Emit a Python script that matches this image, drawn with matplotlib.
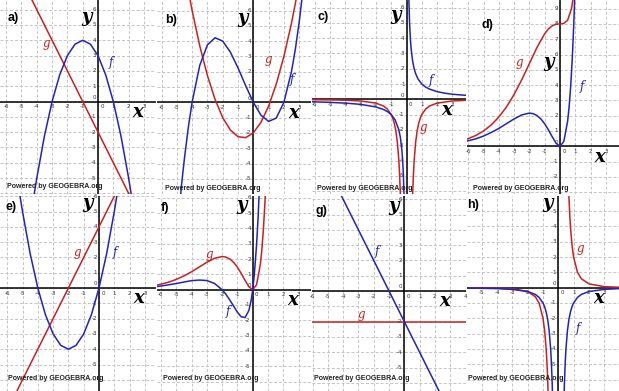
import math
import matplotlib.pyplot as plt

W, H = 619, 391
BLUE = '#2323b8'
RED = '#c82020'

# a)
a_f_x = [-4.2, -4, -3.5, -3, -2.5, -2, -1.5, -1, -0.5, 0, 0.5, 1, 1.5, 2, 2.2]
a_f_y = [-6.24, -5, -2.25, 0, 1.75, 3, 3.75, 4, 3.75, 3, 1.75, 0, -2.25, -5, -6.24]
a_g_x = [-4.5, 2.5]
a_g_y = [7, -7]

# b)
b_f_x = [-4.8, -4.65, -4.5, -4.25, -4, -3.5, -3, -2.5, -2, -1.5, -1, -0.5, 0, 0.5, 1, 1.5, 2, 2.5, 2.75, 3, 3.25]
b_f_y = [-6.53, -5.02, -3.66, -1.66, 0, 2.41, 3.75, 4.22, 4, 3.28, 2.25, 1.09, 0, -0.84, -1.25, -1.03, 0, 2.03, 3.48, 5.25, 7.36]
b_g_x = [-4.5, -4, -3.5, -3, -2.5, -2, -1.5, -1, -0.5, 0, 0.5, 1, 1.5, 2, 2.5, 3]
b_g_y = [8.69, 6, 3.69, 1.75, 0.19, -1, -1.81, -2.25, -2.31, -2, -1.31, -0.25, 1.19, 3, 5.19, 7.75]

# c)
c_f1_x = [-6.5, -5, -4, -3, -2, -1.5, -1.25, -1, -0.75, -0.5, -0.4, -0.3, -0.25, -0.2, -0.15]
c_f1_y = [-0.15, -0.2, -0.25, -0.33, -0.5, -0.67, -0.8, -1, -1.33, -2, -2.5, -3.33, -4, -5, -6.67]
c_f2_x = [0.15, 0.2, 0.25, 0.3, 0.4, 0.5, 0.6, 0.75, 1, 1.25, 1.5, 2, 2.5, 3, 4]
c_f2_y = [6.67, 5, 4, 3.33, 2.5, 2, 1.67, 1.33, 1, 0.8, 0.67, 0.5, 0.4, 0.33, 0.25]
c_g1_x = [-6.5, -5, -4, -3, -2, -1.5, -1.25, -1, -0.9, -0.8, -0.7, -0.6, -0.5, -0.45, -0.4, -0.38]
c_g1_y = [-0.02, -0.04, -0.06, -0.11, -0.25, -0.44, -0.64, -1, -1.23, -1.56, -2.04, -2.78, -4, -4.94, -6.25, -6.93]
c_g2_x = [0.38, 0.4, 0.45, 0.5, 0.6, 0.7, 0.8, 0.9, 1, 1.25, 1.5, 2, 3, 4]
c_g2_y = [-6.93, -6.25, -4.94, -4, -2.78, -2.04, -1.56, -1.23, -1, -0.64, -0.44, -0.25, -0.11, -0.06]

# d)
d_f_x = [-6.3, -6, -5.5, -5, -4.5, -4, -3.5, -3, -2.5, -2, -1.75, -1.5, -1.25, -1, -0.75, -0.5, -0.25, 0, 0.25, 0.5, 0.6, 0.7, 0.8, 0.9, 1]
d_f_y = [0.29, 0.36, 0.49, 0.67, 0.9, 1.17, 1.48, 1.79, 2.05, 2.17, 2.13, 2.01, 1.79, 1.47, 1.06, 0.61, 0.19, 0, 0.32, 1.65, 2.62, 3.95, 5.7, 7.97, 10.87]
d_g_x = [-6.3, -6, -5.5, -5, -4.5, -4, -3.5, -3, -2.5, -2, -1.5, -1, -0.75, -0.5, -0.25, 0, 0.25, 0.5, 0.75, 0.9, 1]
d_g_y = [0.4, 0.5, 0.71, 1.0, 1.39, 1.91, 2.57, 3.39, 4.35, 5.41, 6.47, 7.36, 7.68, 7.88, 7.98, 8, 8.03, 8.24, 9.0, 9.94, 10.87]

# e)
e_f_x = [-5.2, -5, -4.5, -4, -3.5, -3, -2.5, -2, -1.5, -1, -0.5, 0, 0.5, 1, 1.2]
e_f_y = [6.24, 5, 2.25, 0, -1.75, -3, -3.75, -4, -3.75, -3, -1.75, 0, 2.25, 5, 6.24]
e_g_x = [-5.5, 1.5]
e_g_y = [-7, 7]

# f)
f_f_x = [-6.3, -6, -5.5, -5, -4.5, -4, -3.5, -3, -2.5, -2, -1.75, -1.5, -1.25, -1, -0.75, -0.5, -0.25, -0.1, 0, 0.1, 0.25, 0.35, 0.45, 0.5]
f_f_y = [0.2, 0.24, 0.32, 0.4, 0.5, 0.59, 0.63, 0.6, 0.41, 0, -0.3, -0.67, -1.07, -1.47, -1.77, -1.82, -1.36, -0.69, 0, 0.93, 2.89, 4.67, 6.92, 8.24]
f_g_x = [-6.3, -6, -5.5, -5, -4.5, -4, -3.5, -3, -2.5, -2, -1.75, -1.5, -1.25, -1, -0.75, -0.5, -0.25, 0, 0.25, 0.5, 0.6, 0.7, 0.8, 0.9]
f_g_y = [0.29, 0.36, 0.49, 0.67, 0.9, 1.17, 1.48, 1.79, 2.05, 2.17, 2.13, 2.01, 1.79, 1.47, 1.06, 0.61, 0.19, 0, 0.32, 1.65, 2.62, 3.95, 5.7, 7.97]

# g)
g_f_x = [-4.5, 2.5]
g_f_y = [7, -7]
g_g_x = [-7, 5]
g_g_y = [-2, -2]

# h)
h_f1_x = [-6.5, -5, -4, -3, -2, -1.5, -1.25, -1, -0.9, -0.8, -0.7, -0.6, -0.5, -0.45, -0.4, -0.38]
h_f1_y = [-0.02, -0.04, -0.06, -0.11, -0.25, -0.44, -0.64, -1, -1.23, -1.56, -2.04, -2.78, -4, -4.94, -6.25, -6.93]
h_f2_x = [0.38, 0.4, 0.45, 0.5, 0.6, 0.7, 0.8, 0.9, 1, 1.25, 1.5, 2, 3, 4, 5]
h_f2_y = [-6.93, -6.25, -4.94, -4, -2.78, -2.04, -1.56, -1.23, -1, -0.64, -0.44, -0.25, -0.11, -0.06, -0.04]
h_g1_x = [-6.5, -5, -4, -3, -2, -1.5, -1.25, -1, -0.9, -0.8, -0.75, -0.7, -0.66]
h_g1_y = [-0.01, -0.02, -0.03, -0.07, -0.25, -0.59, -1.02, -2, -2.74, -3.91, -4.74, -5.83, -6.96]
h_g2_x = [0.66, 0.7, 0.75, 0.8, 0.9, 1, 1.25, 1.5, 2, 3, 4, 5]
h_g2_y = [6.96, 5.83, 4.74, 3.91, 2.74, 2, 1.02, 0.59, 0.25, 0.07, 0.03, 0.02]

# label positions (data coords) for f and g
lab_f = {'a': (0.85, 2.54), 'b': (2.5, 1.46), 'c': (1.58, 1.26), 'd': (1.43, 3.88),
         'e': (1.04, 2.32), 'f': (-1.63, -1.44), 'g': (-1.8, 2.57), 'h': (1.31, -2.65)}
lab_g = {'a': (-3.35, 3.8), 'b': (0.98, 2.81), 'c': (1.1, -1.86), 'd': (-2.68, 5.46),
         'e': (-1.41, 2.32), 'f': (-2.84, 2.27), 'g': (-2.78, -1.52), 'h': (1.42, 2.58)}

fig = plt.figure(figsize=(W / 100, H / 100), dpi=100)
fig.patch.set_facecolor('white')

S = 15.3


def panel(key, box, origin, blue, red, letter_pos, pb_pos):
    x0, y0, x1, y1 = box
    ox, oy = origin
    ax = fig.add_axes([x0 / W, 1 - y1 / H, (x1 - x0) / W, (y1 - y0) / H])
    xmin, xmax = (x0 - ox) / S, (x1 - ox) / S
    ymin, ymax = (oy - y1) / S, (oy - y0) / S
    ax.set_xlim(xmin, xmax)
    ax.set_ylim(ymin, ymax)
    ax.axis('off')

    xs = range(math.ceil(xmin), math.floor(xmax) + 1)
    ys = range(math.ceil(ymin), math.floor(ymax) + 1)
    for i in xs:
        ax.axvline(i, color='#c4c4c4', lw=0.7, ls=(0, (3, 2)), zorder=0)
    for j in ys:
        ax.axhline(j, color='#c4c4c4', lw=0.7, ls=(0, (3, 2)), zorder=0)
    ax.axhline(0, color='black', lw=1.1, zorder=1)
    ax.axvline(0, color='black', lw=1.1, zorder=1)

    for i in xs:
        if i != 0:
            ax.text(i, -0.17, str(i), fontsize=4, ha='center', va='top', color='#333333')
    for j in ys:
        # the bottom-most label is hidden under the "Powered by" line
        if j != 0 and (j - ymin) * S > 13:
            ax.text(-0.13, j, str(j), fontsize=4, ha='right', va='center', color='#333333')
    ax.text(0.15, -0.17, '0', fontsize=4, ha='left', va='top', color='#333333')
    ax.text(-0.13, 0.1, '0', fontsize=4, ha='right', va='bottom', color='#333333')

    for cx, cy in red:
        ax.plot(cx, cy, color=RED, lw=1.1, zorder=3)
    for cx, cy in blue:
        ax.plot(cx, cy, color=BLUE, lw=1.1, zorder=3)

    ax.text(*lab_f[key], 'f', color=BLUE, fontsize=8.5, style='italic',
            family='DejaVu Serif', ha='center', va='center')
    ax.text(*lab_g[key], 'g', color=RED, fontsize=8.5, style='italic',
            family='DejaVu Serif', ha='center', va='center')
    ax.text(2.62, -1.0, 'x', fontsize=13, style='italic', weight='bold',
            family='DejaVu Serif', ha='center', va='baseline')
    ax.text(-0.72, 5.2, 'y', fontsize=13, style='italic', weight='bold',
            family='DejaVu Serif', ha='center', va='baseline')

    fig.text(letter_pos[0] / W, 1 - letter_pos[1] / H, key + ')', fontsize=9,
             weight='bold', family='Liberation Sans', ha='left', va='center')
    fig.text(pb_pos[0] / W, 1 - pb_pos[1] / H, 'Powered by GEOGEBRA.org', fontsize=5,
             weight='bold', family='Liberation Sans', color='#222222', ha='left', va='center')


panel('a', (0, 0, 156, 194), (98, 101.5),
      [(a_f_x, a_f_y)], [(a_g_x, a_g_y)], (8, 18), (7, 187))
panel('b', (157, 0, 311, 194), (253.3, 102.3),
      [(b_f_x, b_f_y)], [(b_g_x, b_g_y)], (165, 20), (165, 189))
panel('c', (312, 0, 466, 194), (406.5, 99.3),
      [(c_f1_x, c_f1_y), (c_f2_x, c_f2_y)], [(c_g1_x, c_g1_y), (c_g2_x, c_g2_y)], (317, 17), (317, 189))
panel('d', (467, 0, 619, 194), (560, 146.3),
      [(d_f_x, d_f_y)], [(d_g_x, d_g_y)], (482, 25), (473, 188))
panel('e', (0, 196, 156, 391), (99, 288),
      [(e_f_x, e_f_y)], [(e_g_x, e_g_y)], (6, 207), (8, 378))
panel('f', (157, 196, 311, 391), (252.7, 289.7),
      [(f_f_x, f_f_y)], [(f_g_x, f_g_y)], (161, 208), (163, 378))
panel('g', (312, 196, 466, 391), (404.3, 291),
      [(g_f_x, g_f_y)], [(g_g_x, g_g_y)], (316, 211), (314, 378))
panel('h', (467, 196, 619, 391), (558.3, 287.7),
      [(h_f1_x, h_f1_y), (h_f2_x, h_f2_y)], [(h_g1_x, h_g1_y), (h_g2_x, h_g2_y)], (467, 205), (468, 378))

fig.savefig('out.png', dpi=100)
